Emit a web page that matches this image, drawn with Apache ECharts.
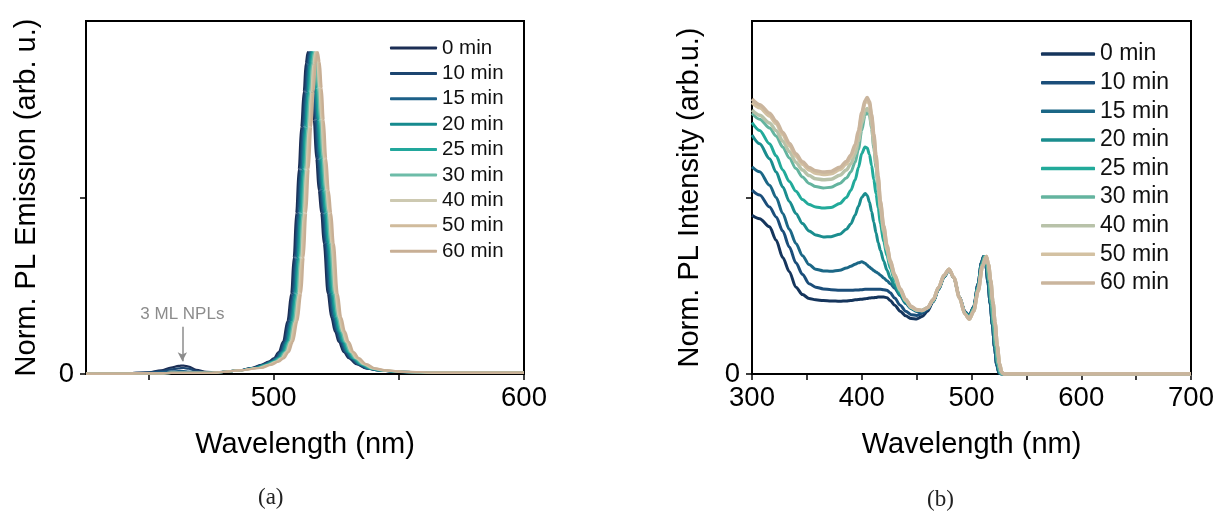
<!DOCTYPE html>
<html>
<head>
<meta charset="utf-8">
<script src="https://cdn.jsdelivr.net/npm/echarts@6/dist/echarts.min.js"></script>
<style>
html,body{margin:0;padding:0;background:#fff;}
#chart{width:1218px;height:515px;}
</style>
</head>
<body>
<div id="chart"></div>
<script>
// ---------- data ----------
const seriesNames = ['0 min','10 min','15 min','20 min','25 min','30 min','40 min','50 min','60 min'];

// panel (a): weak 3 ML NPL emission region
const bumpWl   = [425,440,450,455,459,462,464,466,469,473,477];
const bump0    = [0.001,0.002,0.005,0.010,0.018,0.023,0.024,0.021,0.012,0.006,0.005];
const bump10   = [0.001,0.002,0.004,0.008,0.013,0.016,0.017,0.015,0.009,0.005,0.005];
const bump15   = [0.001,0.002,0.003,0.005,0.007,0.008,0.008,0.007,0.005,0.004,0.004];
const bumpFlat = [0.001,0.001,0.002,0.002,0.003,0.003,0.003,0.003,0.003,0.003,0.004];

// panel (a): main emission peak, intensity levels and wavelength where each curve reaches them
const peakLevels = [0.006,0.010,0.017,0.026,0.035,0.044,0.062,0.091,0.15,0.228,0.33,0.456,0.58,0.70,0.80,0.88,0.912,0.885,0.81,0.72,0.61,0.52,0.456,0.37,0.228,0.16,0.12,0.091,0.062,0.045,0.028,0.016,0.010,0.006,0.004,0.004];
const peakWl0  = [480,486,491,495,498,500,502,503.7,505.5,507,508,509,510,511,512,512.8,513.6,514.4,515.2,516,517,518,519,520,521.6,523,524.5,526,528,530,533,537,542,550,565,600];
const peakWl10 = [480,486,491.5,495.5,498.5,500.5,502.5,504.2,506,507.5,508.5,509.5,510.5,511.5,512.5,513.3,514.1,514.9,515.7,516.5,517.5,518.5,519.5,520.5,522.1,523.5,525,526.5,528.5,530.5,533.5,537,542,550,565,600];
const peakWl15 = [480,486,492,496,499,501,503,504.7,506.5,508,509,510,511,512,513,513.8,514.6,515.4,516.2,517,518,519,520,521,522.6,524,525.5,527,529,531,534,537.5,542,550,565,600];
const peakWl20 = [480,486,492.5,496.5,499.5,501.5,503.5,505.2,507,508.5,509.5,510.5,511.5,512.5,513.5,514.3,515.1,515.9,516.7,517.5,518.5,519.5,520.5,521.5,523.1,524.5,526,527.5,529.5,531.5,534.5,538,542.5,550,565,600];
const peakWl25 = [480,486,493,497,500,502,504,505.7,507.5,509,510,511,512,513,514,514.8,515.6,516.4,517.2,518,519,520,521,522,523.6,525,526.5,528,530,532,535,538.5,543,550.5,565,600];
const peakWl30 = [480,486,493.5,497.5,500.5,502.5,504.5,506.2,508,509.5,510.5,511.5,512.5,513.5,514.5,515.3,516.1,516.9,517.7,518.5,519.5,520.5,521.5,522.5,524.1,525.5,527,528.5,530.5,532.5,535.5,539,543.5,551,565,600];
const peakWl40 = [480,486,494,498,501,503,505,506.7,508.5,510,511,512,513,514,515,515.8,516.6,517.4,518.2,519,520,521,522,523,524.6,526,527.5,529,531,533,536,539.5,544,551.5,566,600];
const peakWl50 = [480,486,494.5,498.5,501.5,503.5,505.5,507.2,509,510.5,511.5,512.5,513.5,514.5,515.5,516.3,517.1,517.9,518.7,519.5,520.5,521.5,522.5,523.5,525.1,526.5,528,529.5,531.5,533.5,536.5,540,544.5,552,566,600];
const peakWl60 = [480,486,495,499,502,504,506,507.7,509.5,511,512,513,514,515,516,516.8,517.6,518.4,519.2,520,521,522,523,524,525.6,527,528.5,530,532,534,537,540.5,545,552.5,567,600];

// panel (b): 300-460 nm part on a shared wavelength grid
const wlB = [300,307,316,322,328,334,340,346,352,358,365,372,380,386,390,394,397,400,403,405,407,409,411,413,415,417,420,423,426,430,435,440,445,450,455,460];
const b0  = [0.45,0.44,0.417,0.379,0.33,0.29,0.246,0.225,0.214,0.21,0.208,0.207,0.206,0.207,0.208,0.21,0.211,0.212,0.213,0.214,0.215,0.216,0.216,0.217,0.218,0.218,0.218,0.216,0.208,0.195,0.178,0.165,0.157,0.156,0.163,0.178];
const b10 = [0.521,0.507,0.473,0.445,0.405,0.36,0.315,0.282,0.256,0.246,0.241,0.239,0.237,0.237,0.237,0.238,0.238,0.239,0.24,0.24,0.24,0.24,0.24,0.24,0.24,0.24,0.239,0.237,0.23,0.215,0.195,0.178,0.168,0.166,0.172,0.183];
const b15 = [0.587,0.573,0.535,0.50,0.455,0.41,0.37,0.335,0.31,0.297,0.292,0.291,0.294,0.3,0.305,0.311,0.315,0.318,0.314,0.308,0.303,0.298,0.293,0.289,0.285,0.28,0.272,0.264,0.256,0.243,0.222,0.2,0.185,0.177,0.175,0.185];
const b20 = [0.677,0.652,0.61,0.572,0.53,0.489,0.455,0.426,0.405,0.394,0.388,0.389,0.396,0.41,0.425,0.45,0.475,0.5,0.511,0.506,0.487,0.46,0.43,0.4,0.372,0.35,0.32,0.294,0.272,0.25,0.225,0.203,0.188,0.18,0.18,0.188];
const b25 = [0.712,0.69,0.652,0.618,0.578,0.545,0.518,0.494,0.48,0.473,0.47,0.472,0.483,0.5,0.52,0.55,0.585,0.625,0.643,0.64,0.622,0.59,0.55,0.51,0.47,0.425,0.375,0.335,0.3,0.265,0.23,0.205,0.188,0.18,0.18,0.188];
const b30 = [0.739,0.722,0.697,0.674,0.643,0.612,0.582,0.558,0.54,0.531,0.527,0.529,0.54,0.555,0.572,0.6,0.637,0.69,0.733,0.742,0.732,0.695,0.64,0.585,0.525,0.462,0.4,0.348,0.31,0.272,0.235,0.207,0.188,0.18,0.18,0.188];
const b40 = [0.748,0.733,0.711,0.69,0.66,0.63,0.6,0.578,0.562,0.553,0.55,0.552,0.563,0.578,0.595,0.623,0.66,0.71,0.745,0.752,0.742,0.705,0.65,0.595,0.535,0.47,0.405,0.353,0.313,0.275,0.237,0.208,0.189,0.181,0.18,0.188];
const b50 = [0.769,0.754,0.731,0.709,0.678,0.647,0.617,0.594,0.578,0.569,0.565,0.567,0.579,0.595,0.613,0.643,0.683,0.733,0.768,0.776,0.765,0.728,0.673,0.613,0.553,0.485,0.417,0.362,0.32,0.28,0.24,0.21,0.19,0.182,0.18,0.188];
const b60 = [0.779,0.763,0.739,0.716,0.685,0.654,0.624,0.601,0.585,0.576,0.572,0.574,0.586,0.602,0.62,0.65,0.69,0.74,0.775,0.783,0.772,0.735,0.68,0.62,0.56,0.49,0.42,0.365,0.322,0.282,0.242,0.212,0.192,0.183,0.18,0.188];

// panel (b): 465-700 nm part (curves overlap, three groups)
const tailEarly = [[465,0.205],[470,0.24],[475,0.275],[479.5,0.295],[484,0.272],[489,0.218],[494,0.176],[498,0.165],[502,0.19],[506,0.255],[509,0.315],[511,0.333],[513,0.31],[515,0.26],[517,0.2],[519,0.14],[521,0.075],[523,0.025],[525,0.003],[527,0],[700,0]];
const tailMid   = [[465,0.207],[470,0.242],[475,0.277],[479.5,0.296],[484,0.272],[489,0.217],[494,0.173],[498,0.16],[502,0.185],[506,0.245],[509.5,0.31],[512,0.333],[514,0.31],[516,0.262],[518,0.2],[520,0.14],[522,0.078],[524,0.028],[526,0.004],[528,0],[700,0]];
const tailLate  = [[465,0.21],[470,0.245],[475,0.28],[479.5,0.297],[484,0.273],[489,0.216],[494,0.17],[498,0.155],[502,0.178],[506,0.235],[510,0.305],[513.5,0.333],[515.5,0.31],[517.5,0.265],[519.5,0.205],[521.5,0.145],[523.5,0.08],[525.5,0.03],[527.5,0.005],[529.5,0],[700,0]];

// ticks
const ticksA_x = [450,500,550,600];
const labelsA_x = [500,600];
const ticksB_x = [300,350,400,450,500,550,600,650,700];
const labelsB_x = [300,400,500,600,700];
const ticksY = [0,0.5];
const labelsY = [0];

// ---------- styles ----------
const colorsA = ['#1c2e55','#1c4570','#1d6088','#168a8e','#22a79c','#6dbca8','#cdc9b1','#d0bb9c','#c8af95'];
const colorsB = ['#15355c','#1b4e7a','#1b6786','#1a8d8e','#22aa9a','#64b49f','#b8c2a9','#d3c1a2','#cab59d'];
const FONT = 'Liberation Sans, Arial, sans-serif';

const bumpSets = [bump0,bump10,bump15,bumpFlat,bumpFlat,bumpFlat,bumpFlat,bumpFlat,bumpFlat];
const peakSets = [peakWl0,peakWl10,peakWl15,peakWl20,peakWl25,peakWl30,peakWl40,peakWl50,peakWl60];
const bSets = [b0,b10,b15,b20,b25,b30,b40,b50,b60];
const tailSets = [tailEarly,tailEarly,tailEarly,tailMid,tailMid,tailMid,tailLate,tailLate,tailLate];

const series = [];
seriesNames.forEach((name, i) => {
  const data = bumpWl.map((w, j) => [w, bumpSets[i][j]])
    .concat(peakSets[i].map((w, j) => [w, peakLevels[j]]));
  const s = {
    name: name, type: 'line', xAxisIndex: 0, yAxisIndex: 0,
    data: data, showSymbol: false, symbol: 'none', smooth: 0.35, smoothMonotone: 'x',
    lineStyle: { color: colorsA[i], width: 2.2 }, itemStyle: { color: colorsA[i] },
    silent: true, animation: false, z: 2 + i
  };
  if (i === 0) {
    s.markLine = {
      silent: true, animation: false,
      symbol: ['none', 'arrow'], symbolSize: [7, 9],
      lineStyle: { color: '#8c8c8c', width: 1.5, type: 'solid' },
      label: { show: true, position: 'start', formatter: '3 ML NPLs', color: '#8c8c8c', fontSize: 17, fontFamily: FONT, distance: 4 },
      data: [[{ coord: [463.5, 0.134] }, { coord: [463.5, 0.036] }]]
    };
  }
  series.push(s);
});
seriesNames.forEach((name, i) => {
  const data = wlB.map((w, j) => [w, bSets[i][j]]).concat(tailSets[i]);
  series.push({
    name: name + ' ', type: 'line', xAxisIndex: 1, yAxisIndex: 1,
    data: data, showSymbol: false, symbol: 'none', smooth: 0.3, smoothMonotone: 'x',
    lineStyle: { color: colorsB[i], width: i >= 6 ? 3.5 : 3 }, itemStyle: { color: colorsB[i] },
    silent: true, animation: false, z: 2 + i
  });
});

function xAxisCfg(gridIndex, min, max, ticks, labels) {
  return {
    type: 'value', gridIndex: gridIndex, min: min, max: max,
    name: 'Wavelength (nm)', nameLocation: 'middle', nameGap: 56,
    nameTextStyle: { fontSize: 29, color: '#000', fontFamily: FONT },
    axisLine: { show: true, onZero: false, lineStyle: { color: '#000', width: 2 } },
    axisTick: { show: true, inside: false, length: 6, customValues: ticks, lineStyle: { color: '#000', width: 1.5 } },
    axisLabel: { show: true, customValues: labels, fontSize: 27.5, color: '#000', fontFamily: FONT, margin: 10 },
    splitLine: { show: false }
  };
}
function yAxisCfg(gridIndex, name, gap) {
  return {
    type: 'value', gridIndex: gridIndex, min: 0, max: 1,
    name: name, nameLocation: 'middle', nameRotate: 90, nameGap: gap,
    nameTextStyle: { fontSize: 29, color: '#000', fontFamily: FONT },
    axisLine: { show: true, onZero: false, lineStyle: { color: '#000', width: 2 } },
    axisTick: { show: true, inside: false, length: 6, customValues: ticksY, lineStyle: { color: '#000', width: 1.5 } },
    axisLabel: { show: true, customValues: labelsY, fontSize: 27.5, color: '#000', fontFamily: FONT, margin: 12 },
    splitLine: { show: false }
  };
}

const option = {
  backgroundColor: '#ffffff',
  animation: false,
  grid: [
    { left: 86, top: 21, width: 438, height: 353, show: true, borderColor: '#000', borderWidth: 2, outerBoundsMode: 'none', containLabel: false },
    { left: 752, top: 21, width: 439, height: 353, show: true, borderColor: '#000', borderWidth: 2, outerBoundsMode: 'none', containLabel: false }
  ],
  xAxis: [
    xAxisCfg(0, 425, 600, ticksA_x, labelsA_x),
    xAxisCfg(1, 300, 700, ticksB_x, labelsB_x)
  ],
  yAxis: [
    yAxisCfg(0, 'Norm. PL Emission (arb. u.)', 45),
    yAxisCfg(1, 'Norm. PL Intensity (arb.u.)', 48)
  ],
  legend: [
    {
      data: seriesNames, orient: 'vertical', left: 390, top: 37.5,
      itemWidth: 47, itemHeight: 3, itemGap: 4.4, icon: 'roundRect',
      selectedMode: false,
      textStyle: { fontSize: 20.5, lineHeight: 20.5, color: '#111', fontFamily: FONT },
      padding: 0
    },
    {
      data: seriesNames.map(n => n + ' '), orient: 'vertical', left: 1041, top: 42.5,
      itemWidth: 54, itemHeight: 3.5, itemGap: 5.4, icon: 'roundRect',
      selectedMode: false,
      formatter: n => n.trim(),
      textStyle: { fontSize: 23, lineHeight: 23.2, color: '#111', fontFamily: FONT },
      padding: 0
    }
  ],
  graphic: [
    { type: 'text', left: 258, top: 486, style: { text: '(a)', fontSize: 23, fontFamily: 'Liberation Serif, serif', fill: '#222' } },
    { type: 'text', left: 927, top: 488, style: { text: '(b)', fontSize: 23, fontFamily: 'Liberation Serif, serif', fill: '#222' } }
  ],
  series: series
};

const chart = echarts.init(document.getElementById('chart'), null, { renderer: 'canvas' });
chart.setOption(option);
</script>
</body>
</html>
